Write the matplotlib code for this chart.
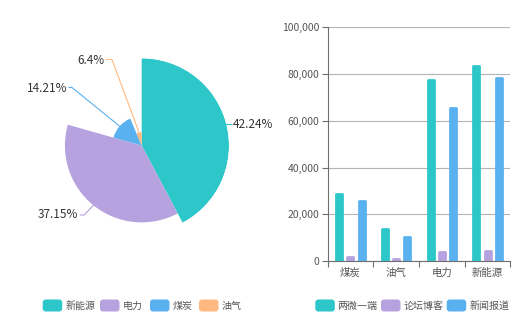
import numpy as np
import matplotlib
matplotlib.use("Agg")
import matplotlib.pyplot as plt
from matplotlib.patches import FancyBboxPatch

plt.rcParams['font.family'] = ['Noto Sans CJK SC', 'DejaVu Sans']

# ---- data ----
pie_names = ['新能源', '电力', '煤炭', '油气']
pie_values = [42.24, 37.15, 14.21, 6.4]

bar_categories = ['煤炭', '油气', '电力', '新能源']
series_names = ['两微一端', '论坛博客', '新闻报道']
series_apps = [28500, 13700, 77300, 83600]
series_forums = [1900, 700, 3700, 4400]
series_news = [25500, 10400, 65500, 78500]
y_ticks = [0, 20000, 40000, 60000, 80000, 100000]

colors = ['#2ec7c9', '#b6a2de', '#5ab1ef', '#ffb980']
text_color = '#333333'
axis_color = '#6e6e6e'

W, H = 531, 325
fig = plt.figure(figsize=(W / 100, H / 100), dpi=100)

# ---- rose pie (angle and radius both follow the value) ----
cx, cy, R = 141.7, 145.6, 87.3
ax_p = fig.add_axes([(cx - R) / W, (H - cy - R) / H, 2 * R / W, 2 * R / H],
                    projection='polar')
ax_p.set_theta_zero_location('N')
ax_p.set_theta_direction(-1)
vals = np.array(pie_values)
widths = vals / vals.sum() * 2 * np.pi
starts = np.concatenate([[0], np.cumsum(widths)[:-1]])
ax_p.bar(starts, vals, width=widths, align='edge', color=colors[:len(vals)],
         edgecolor='none')
ax_p.set_ylim(0, vals.max())
ax_p.set_axis_off()

# overlay in pixel coordinates for labels, leader lines and legends
ov = fig.add_axes([0, 0, 1, 1], zorder=5)
ov.set_xlim(0, W)
ov.set_ylim(H, 0)
ov.set_axis_off()

# label placement: (elbow point, text anchor, alignment)
label_layout = [
    ((229, 124.5), (233, 125), 'left'),
    ((84, 215), (78, 215), 'right'),
    ((72, 87.5), (67, 88), 'right'),
    ((112, 59.5), (104, 60), 'right'),
]
for v, s, w, c, (elbow, tpos, ha) in zip(vals, starts, widths, colors, label_layout):
    mid = s + w / 2
    r = v / vals.max() * R
    px, py = cx + r * np.sin(mid), cy - r * np.cos(mid)
    end_x = tpos[0] + 2 if ha == 'right' else tpos[0] - 1
    ov.plot([px, elbow[0], end_x], [py, elbow[1], elbow[1]], color=c, lw=0.8,
            solid_capstyle='round')
    ov.text(tpos[0], tpos[1], f'{v:g}%', ha=ha, va='center', fontsize=8.5,
            color=text_color)


def draw_legend(names, cols, xs, y):
    for name, col, x in zip(names, cols, xs):
        ov.add_patch(FancyBboxPatch((x, y - 6), 19.5, 12,
                                    boxstyle='round,pad=0,rounding_size=3',
                                    fc=col, ec='none'))
        ov.text(x + 22.5, y, name, ha='left', va='center', fontsize=7.2,
                color='#555555')


draw_legend(pie_names, colors, [42.7, 100, 150, 199], 305.5)
draw_legend(series_names, colors[:3], [315.3, 381, 446.7], 305.5)

# ---- grouped bar chart ----
ax_b = fig.add_axes([327.5 / W, (H - 261) / H, 183 / W, (261 - 27.3) / H])
x = np.arange(len(bar_categories))
bw = 0.128
offs = [-0.245, 0.0, 0.245]
for off, data, c in zip(offs, [series_apps, series_forums, series_news], colors):
    ax_b.bar(x + off, data, width=bw, color=c, edgecolor=c, linewidth=2.0,
             joinstyle='round', zorder=3)

ax_b.set_xlim(-0.5, len(bar_categories) - 0.5)
ax_b.set_ylim(0, y_ticks[-1])
ax_b.set_yticks(y_ticks)
ax_b.set_yticklabels([f'{t:,}' for t in y_ticks])
ax_b.set_xticks(x)
ax_b.set_xticklabels(bar_categories)
ax_b.set_xticks(np.arange(len(bar_categories) + 1) - 0.5, minor=True)
ax_b.tick_params(axis='x', which='major', length=0, pad=5, labelsize=7.5,
                 labelcolor='#555555')
ax_b.tick_params(axis='x', which='minor', length=4, color=axis_color, width=0.8)
ax_b.tick_params(axis='y', length=4, color=axis_color, width=0.8, pad=2,
                 labelsize=7.5, labelcolor='#555555')
ax_b.grid(axis='y', color='#b4b4b4', lw=0.8, zorder=0)
for side in ['top', 'right']:
    ax_b.spines[side].set_visible(False)
for side in ['left', 'bottom']:
    ax_b.spines[side].set_color(axis_color)
    ax_b.spines[side].set_linewidth(0.8)
ax_b.spines['bottom'].set_zorder(4)
ax_b.set_facecolor('none')

fig.savefig('out.png', dpi=100, facecolor='white')
